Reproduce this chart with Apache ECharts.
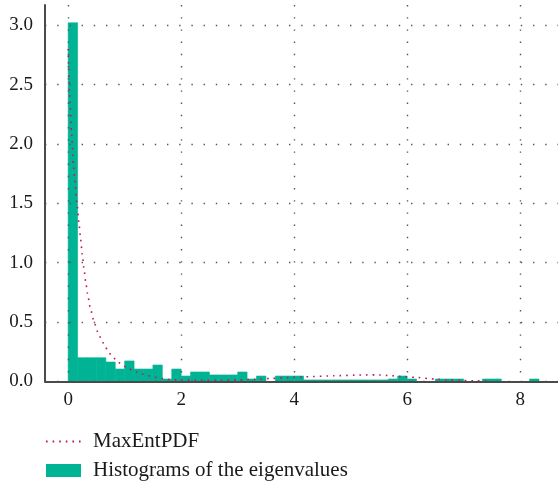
<!DOCTYPE html>
<html>
<head>
<meta charset="utf-8">
<script src="https://cdn.jsdelivr.net/npm/echarts@6/dist/echarts.min.js"></script>
<style>
  html, body { margin: 0; padding: 0; background: #fff; }
  #chart { width: 558px; height: 488px; }
</style>
</head>
<body>
<div id="chart"></div>
<script>
// Histogram of eigenvalues: bins start at 0 with a fixed width
const binStart = 0;
const binWidth = 1 / 6;
const binHeights = [
  3.02, 0.2, 0.2, 0.2, 0.164, 0.105, 0.173, 0.105, 0.105, 0.139,
  0.021, 0.105, 0.046, 0.08, 0.08, 0.055, 0.055, 0.055, 0.08, 0.021,
  0.046, 0, 0.046, 0.046, 0.046, 0.013, 0.013, 0.013, 0.013, 0.013,
  0.013, 0.013, 0.013, 0.013, 0.021, 0.046, 0.021, 0, 0, 0.021,
  0.021, 0.021, 0, 0, 0.021, 0.021, 0, 0, 0, 0.021
];

// Maximum-entropy density estimate, [eigenvalue, density]
const maxEntX = [
  0, 0.03, 0.06, 0.094, 0.124, 0.155, 0.19, 0.22, 0.25, 0.28,
  0.31, 0.35, 0.39, 0.46, 0.53, 0.6, 0.65, 0.71, 0.79, 0.88,
  0.97, 1.08, 1.2, 1.3, 1.42, 1.53, 1.65, 1.76, 2.0, 2.34,
  2.7, 3.0, 3.3, 3.6, 3.9, 4.2, 4.7, 5.2, 5.45, 5.7,
  5.9, 6.15, 6.37, 6.5, 6.7, 7.0, 7.2, 7.45
];
const maxEntY = [
  2.80, 2.37, 2.09, 1.81, 1.67, 1.50, 1.34, 1.20, 1.07, 0.95,
  0.84, 0.72, 0.62, 0.50, 0.41, 0.34, 0.30, 0.25, 0.205, 0.165,
  0.133, 0.105, 0.082, 0.064, 0.049, 0.036, 0.025, 0.017, 0.012, 0.010,
  0.011, 0.013, 0.018, 0.026, 0.033, 0.040, 0.048, 0.055, 0.056, 0.050,
  0.042, 0.035, 0.025, 0.020, 0.013, 0.008, 0.006, 0.004
];

// Axis tick values
const xTicks = [0, 2, 4, 6, 8];
const yTicks = [0, 0.5, 1.0, 1.5, 2.0, 2.5, 3.0];

const SERIF = '"Liberation Serif", "DejaVu Serif", serif';
const TEAL = '#00b394';
const PDF_COLOR = '#c2185b';

const histData = binHeights.map((h, i) => [binStart + i * binWidth, binStart + (i + 1) * binWidth, h]);
const pdfData = maxEntX.map((x, i) => [x, maxEntY[i]]);

const gridLine = {
  show: true,
  lineStyle: { color: '#555', width: 1.4, type: [1.4, 10.8] }
};

const chart = echarts.init(document.getElementById('chart'), null, { renderer: 'canvas' });
chart.setOption({
  animation: false,
  backgroundColor: '#fff',
  textStyle: { fontFamily: SERIF },
  grid: { left: 45, right: 0, top: 5, bottom: 106.5, containLabel: false },
  xAxis: {
    type: 'value',
    min: -0.41,
    max: 8.67,
    z: 5,
    axisLine: { show: true, onZero: false, lineStyle: { color: '#4a4a4a', width: 2 } },
    axisTick: { show: false, customValues: xTicks },
    axisLabel: {
      customValues: xTicks,
      color: '#1a1a1a', fontFamily: SERIF, fontSize: 19, margin: 9,
      formatter: v => String(v)
    },
    splitLine: gridLine
  },
  yAxis: {
    type: 'value',
    min: 0,
    max: 3.17,
    z: 5,
    axisLine: { show: true, onZero: false, lineStyle: { color: '#4a4a4a', width: 2 } },
    axisTick: { show: false, customValues: yTicks },
    axisLabel: {
      customValues: yTicks,
      color: '#1a1a1a', fontFamily: SERIF, fontSize: 19, margin: 12,
      formatter: v => v.toFixed(1)
    },
    splitLine: gridLine
  },
  legend: {
    orient: 'vertical',
    left: 45,
    top: 431,
    padding: 0,
    itemWidth: 35,
    itemHeight: 13,
    itemGap: 8,
    textStyle: { fontFamily: SERIF, fontSize: 21, color: '#1a1a1a', padding: [0, 0, 0, 7] },
    data: [
      { name: 'MaxEntPDF', itemStyle: { opacity: 0 } },
      { name: 'Histograms of the eigenvalues', icon: 'rect' }
    ]
  },
  series: [
    {
      name: 'Histograms of the eigenvalues',
      type: 'custom',
      z: 2,
      itemStyle: { color: TEAL },
      encode: { x: [0, 1], y: 2 },
      renderItem: function (params, api) {
        const lo = api.coord([api.value(0), api.value(2)]);
        const hi = api.coord([api.value(1), 0]);
        return {
          type: 'rect',
          shape: { x: lo[0], y: lo[1], width: hi[0] - lo[0], height: hi[1] - lo[1] },
          style: { fill: TEAL, stroke: TEAL, lineWidth: 0.6 }
        };
      },
      data: histData
    },
    {
      name: 'MaxEntPDF',
      type: 'line',
      z: 4,
      symbol: 'none',
      smooth: 0.2,
      smoothMonotone: 'x',
      color: PDF_COLOR,
      lineStyle: { color: PDF_COLOR, width: 1.6, type: [1.6, 5] },
      data: pdfData
    }
  ]
});
</script>
</body>
</html>
